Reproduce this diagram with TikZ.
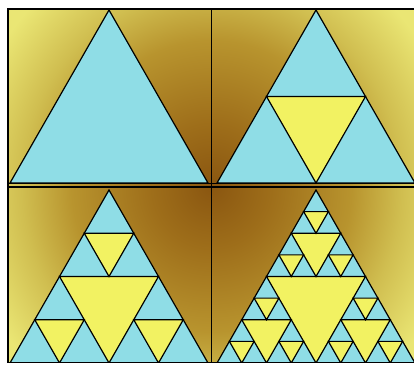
\documentclass[tikz,border=0pt]{standalone}
\usepackage{tikz}
\usetikzlibrary{calc}

\definecolor{gaskcyan}{HTML}{8FDDE6}
\definecolor{holeyellow}{HTML}{F2F262}
\definecolor{glowbrown}{HTML}{8A5610}
\definecolor{glowdark}{HTML}{9E6E1A}
\definecolor{glowgold}{HTML}{B8942E}
\definecolor{glowlight}{HTML}{D0BE50}
\definecolor{glowpale}{HTML}{EAE674}
% 12.5bp is the rim of the glow once it is drawn in a double-size ellipse
\pgfdeclareradialshading{panelglow}{\pgfpoint{0bp}{0bp}}{%
  color(0bp)=(glowbrown); color(3bp)=(glowdark); color(7bp)=(glowgold);
  color(9.5bp)=(glowlight); color(12.5bp)=(glowpale); color(50bp)=(glowpale)}

\tikzset{
  gasket/.style={fill=gaskcyan, draw=black, line width=1.2pt},
  hole/.style={fill=holeyellow, draw=black, line width=1.2pt},
  divider/.style={draw=black, line width=1.4pt}
}

% yellow holes: apex x, apex y, base width, depth
\newcommand\gaskholes[4]{%
  \ifnum#4>0
    \begingroup
    \pgfmathsetmacro\hh{#3*0.8737}%
    \draw[hole] (#1-#3/4,#2+\hh/2) -- (#1+#3/4,#2+\hh/2) -- (#1,#2+\hh) -- cycle;
    \pgfmathsetmacro\nw{#3/2}%
    \pgfmathsetmacro\lx{#1-#3/4}%
    \pgfmathsetmacro\rx{#1+#3/4}%
    \pgfmathsetmacro\my{#2+\hh/2}%
    \pgfmathtruncatemacro\nd{#4-1}%
    \edef\next{\noexpand\gaskholes{#1}{#2}{\nw}{\nd}%
      \noexpand\gaskholes{\lx}{\my}{\nw}{\nd}%
      \noexpand\gaskholes{\rx}{\my}{\nw}{\nd}}%
    \expandafter\endgroup\next
  \fi}

\begin{document}
\begin{tikzpicture}[x=1pt, y=-1pt]
\useasboundingbox (0,0) rectangle (414,365);

% background glow
\begin{scope}
  \clip (8,9) rectangle (414,362.5);
  \shade[shading=panelglow] (211.5,186) ellipse [x radius=500pt, y radius=520pt];

  % the four stages
  \draw[gasket] (109,10) -- ++(99,173) -- ++(-198,0) -- cycle;
  \draw[gasket] (316,10) -- ++(99,173) -- ++(-198,0) -- cycle;
  \gaskholes{316}{10}{198}{1}
  \draw[gasket] (109,190) -- ++(99,173) -- ++(-198,0) -- cycle;
  \gaskholes{109}{190}{198}{2}
  \draw[gasket] (316,190) -- ++(99,173) -- ++(-198,0) -- cycle;
  \gaskholes{316}{190}{198}{3}
\end{scope}

% panel frame
\draw[divider] (8,9) rectangle (416,362.5);
\draw[divider] (211.5,9) -- (211.5,362.5);
\draw[divider] (8,183.5) -- (416,183.5);
\draw[divider] (8,187) -- (416,187);
\end{tikzpicture}
\end{document}
